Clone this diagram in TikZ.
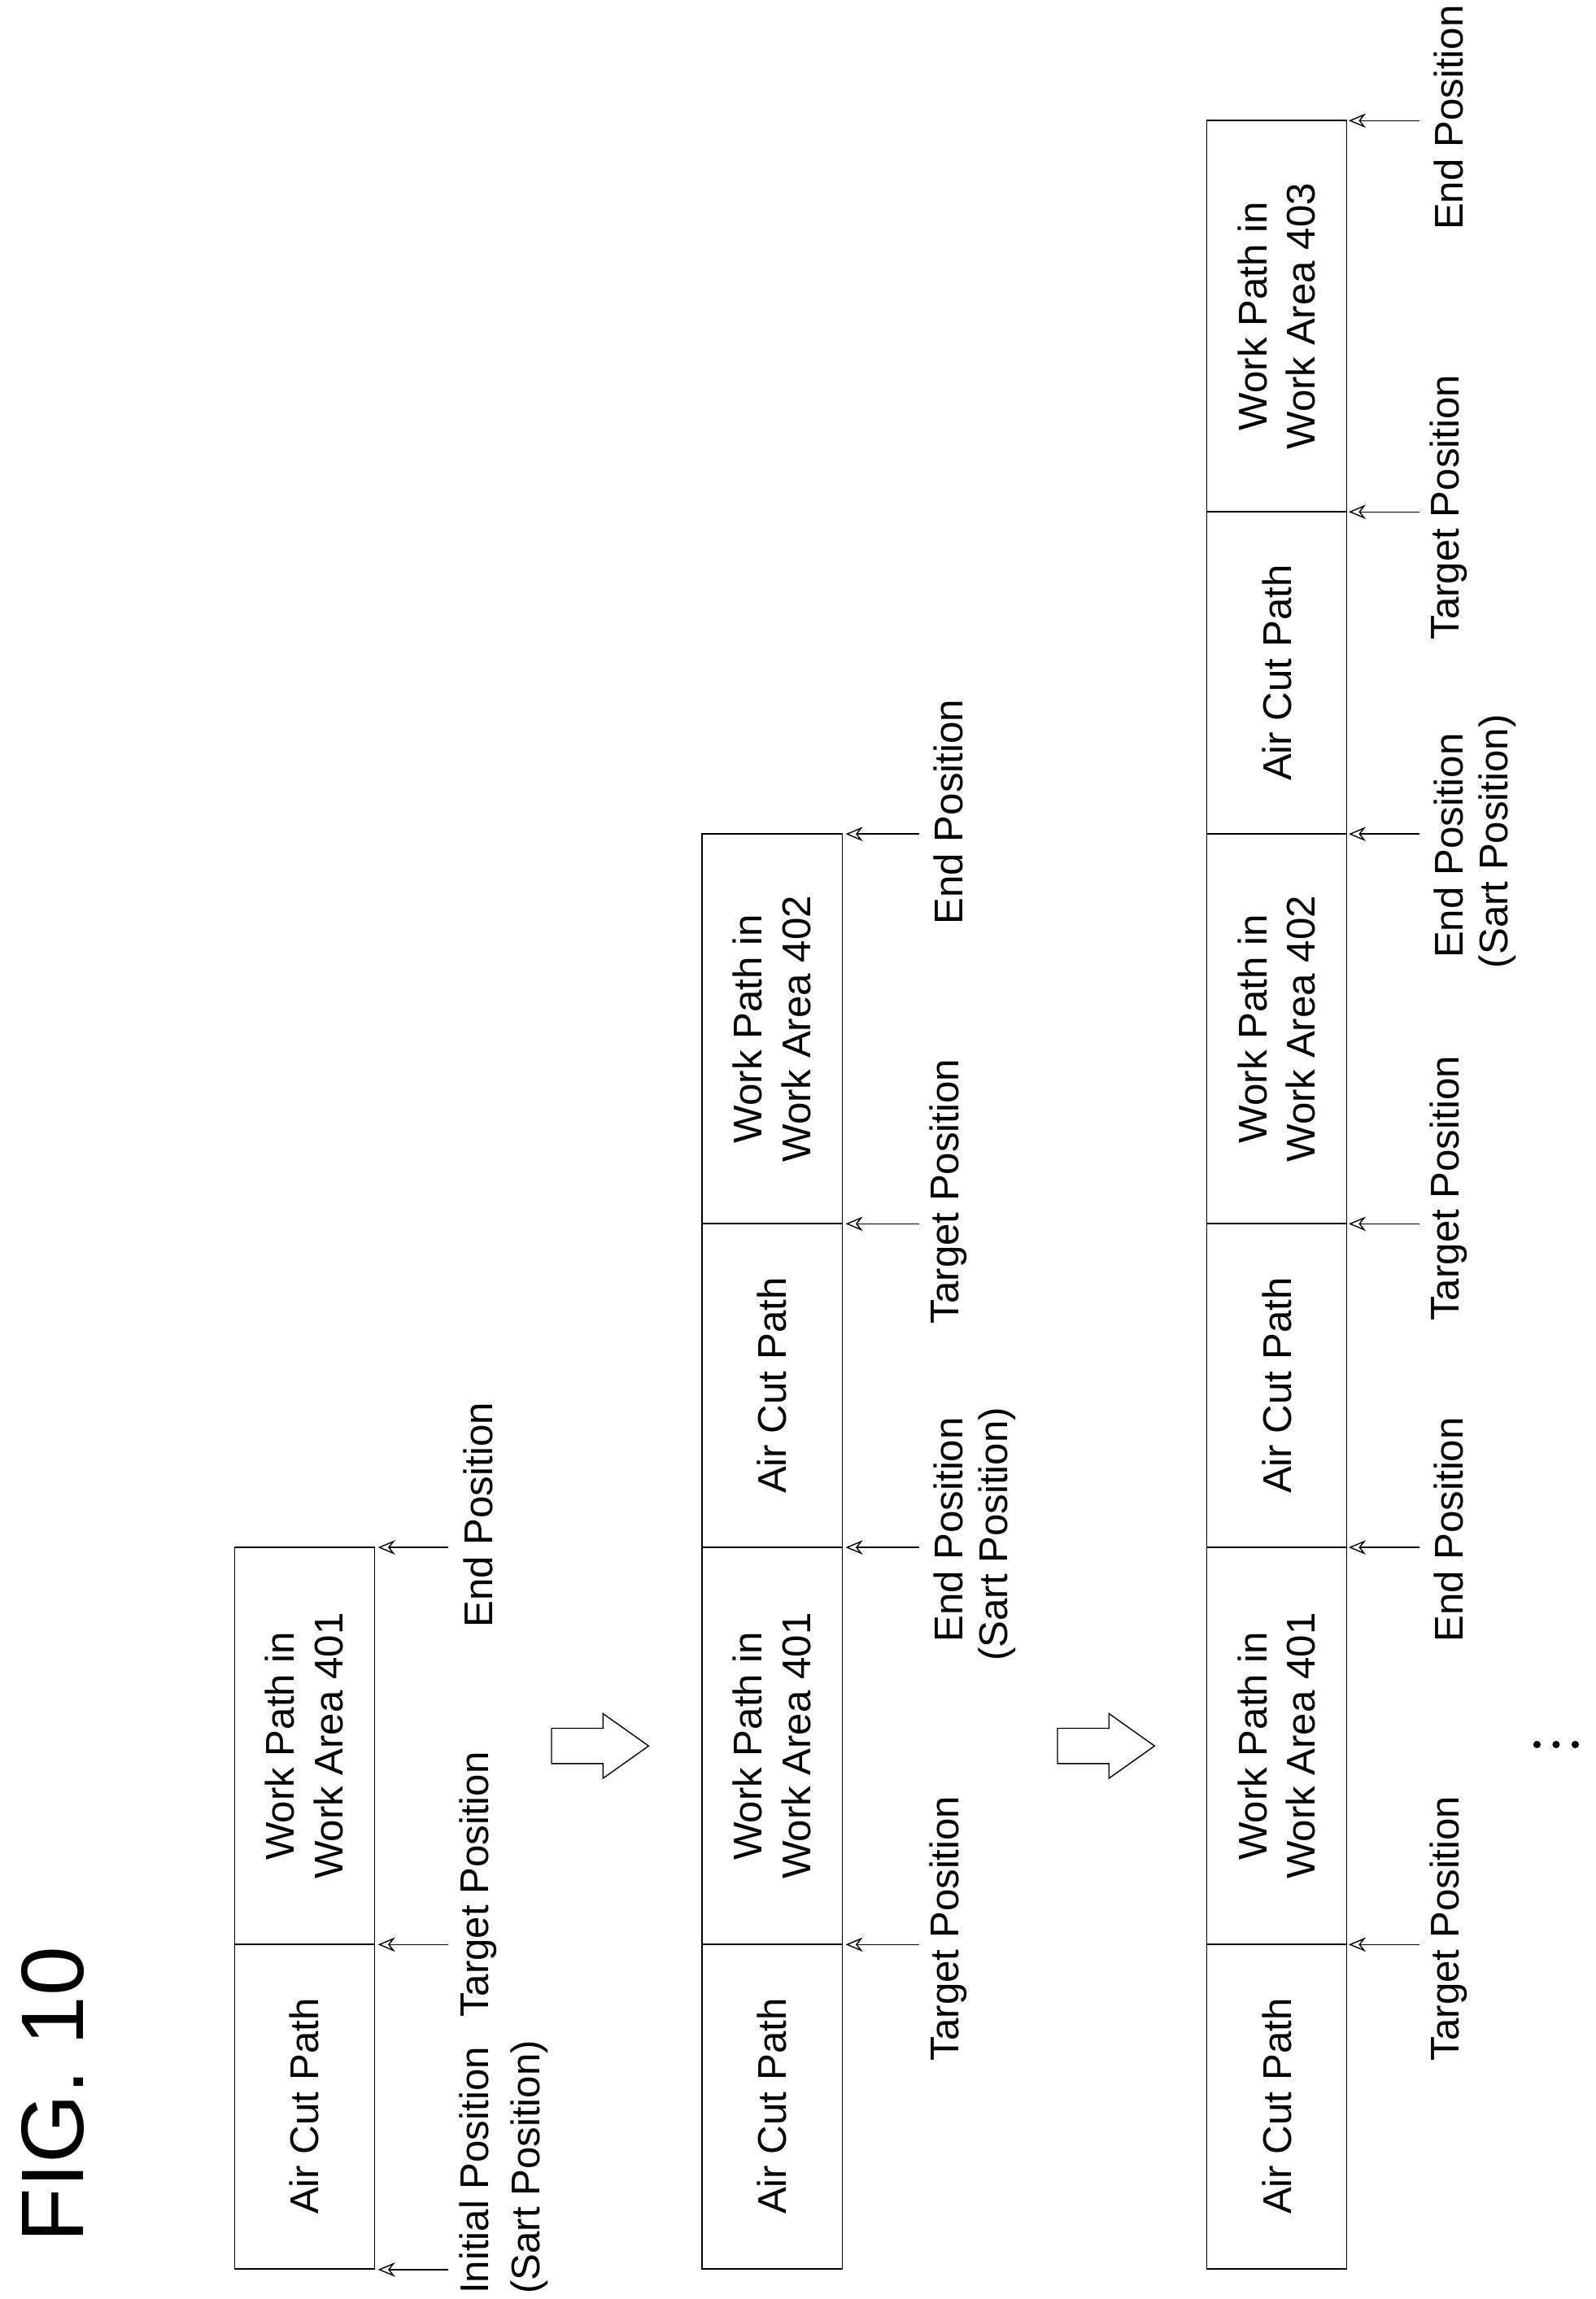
\documentclass[tikz,border=0pt]{standalone}
\usepackage{fontspec}
\setmainfont{Liberation Sans}
\usetikzlibrary{positioning}
\usetikzlibrary{arrows.meta}

\begin{document}
\begin{tikzpicture}[x=0.01807cm,y=-0.01807cm,>={Stealth[length=6pt,width=5pt,open]},
	cell/.style={draw,thin,rotate=90,inner sep=0pt,minimum height=1.72cm,align=center,font=\fontsize{14}{17}\selectfont},
	lbl/.style={rotate=90,inner sep=0pt,font=\fontsize{14}{17}\selectfont},
	feed/.style={->,thin,shorten >=1pt},
	bigarrow/.style={draw,thin,fill=white}]

	\useasboundingbox (0,0) rectangle (1085,1563);
	\node[rotate=90,font=\fontsize{31}{36}\selectfont] (fig) at (36,1424) {FIG. 10};

	% first row
	\node[cell,minimum width=3.99cm] (a1) at (207,1432) {Air Cut Path};
	\node[cell,minimum width=4.88cm] (a2) at (207,1187) {Work Path in\\Work Area 401};
	\coordinate (a1s) at (305,1543); \coordinate (a1e) at (255,1543);
	\coordinate (a2s) at (305,1322); \coordinate (a2e) at (255,1322);
	\coordinate (a3s) at (305,1052); \coordinate (a3e) at (255,1052);
	\path (a1s) edge[feed] (a1e) (a2s) edge[feed] (a2e) (a3s) edge[feed] (a3e);
	\node[lbl,align=left,anchor=north west,font=\fontsize{14}{18}\selectfont] (l1) at (312,1560) {Initial Position\\(Sart Position)};
	\node[lbl] (l2) at (325,1281) {Target Position};
	\node[lbl] (l3) at (325,1030) {End Position};

	\draw[bigarrow] (375,1175) -- (410,1175) -- (410,1165) -- (441,1187) -- (410,1209) -- (410,1199) -- (375,1199) -- cycle;

	% second row
	\node[cell,minimum width=3.99cm] (b1) at (525,1432) {Air Cut Path};
	\node[cell,minimum width=4.88cm] (b2) at (525,1187) {Work Path in\\Work Area 401};
	\node[cell,minimum width=3.98cm] (b3) at (525,942) {Air Cut Path};
	\node[cell,minimum width=4.79cm] (b4) at (525,699.5) {Work Path in\\Work Area 402};
	\coordinate (b1s) at (625,1322); \coordinate (b1e) at (573,1322);
	\coordinate (b2s) at (625,1052); \coordinate (b2e) at (573,1052);
	\coordinate (b3s) at (625,832); \coordinate (b3e) at (573,832);
	\coordinate (b4s) at (625,567); \coordinate (b4e) at (573,567);
	\path (b1s) edge[feed] (b1e) (b2s) edge[feed] (b2e) (b3s) edge[feed] (b3e) (b4s) edge[feed] (b4e);
	\node[lbl] (m1) at (645,1311) {Target Position};
	\node[lbl] (m2) at (645,1040) {End Position};
	\node[lbl] (m2b) at (678,1043) {(Sart Position)};
	\node[lbl] (m3) at (645,810) {Target Position};
	\node[lbl] (m4) at (645,552) {End Position};

	\draw[bigarrow] (719,1175) -- (754,1175) -- (754,1165) -- (785,1187) -- (754,1209) -- (754,1199) -- (719,1199) -- cycle;

	% third row
	\node[cell,minimum width=3.99cm] (c1) at (868,1432) {Air Cut Path};
	\node[cell,minimum width=4.88cm] (c2) at (868,1187) {Work Path in\\Work Area 401};
	\node[cell,minimum width=3.98cm] (c3) at (868,942) {Air Cut Path};
	\node[cell,minimum width=4.79cm] (c4) at (868,699.5) {Work Path in\\Work Area 402};
	\node[cell,minimum width=3.96cm] (c5) at (868,457.5) {Air Cut Path};
	\node[cell,minimum width=4.81cm] (c6) at (868,215) {Work Path in\\Work Area 403};
	\coordinate (c1s) at (965,1322); \coordinate (c1e) at (915,1322);
	\coordinate (c2s) at (965,1052); \coordinate (c2e) at (915,1052);
	\coordinate (c3s) at (965,832); \coordinate (c3e) at (915,832);
	\coordinate (c4s) at (965,567); \coordinate (c4e) at (915,567);
	\coordinate (c5s) at (965,348); \coordinate (c5e) at (915,348);
	\coordinate (c6s) at (965,82); \coordinate (c6e) at (915,82);
	\path (c1s) edge[feed] (c1e) (c2s) edge[feed] (c2e) (c3s) edge[feed] (c3e)
		(c4s) edge[feed] (c4e) (c5s) edge[feed] (c5e) (c6s) edge[feed] (c6e);
	\node[lbl] (n1) at (985,1311) {Target Position};
	\node[lbl] (n2) at (985,1040) {End Position};
	\node[lbl] (n3) at (985,808) {Target Position};
	\node[lbl] (n4) at (985,575) {End Position};
	\node[lbl] (n4b) at (1018,572) {(Sart Position)};
	\node[lbl] (n5) at (985,345) {Target Position};
	\node[lbl] (n6) at (985,80) {End Position};

	% continuation dots
	\fill (1045,1186) circle (1.3pt) (1058,1186) circle (1.3pt) (1071,1186) circle (1.3pt);
\end{tikzpicture}
\end{document}
